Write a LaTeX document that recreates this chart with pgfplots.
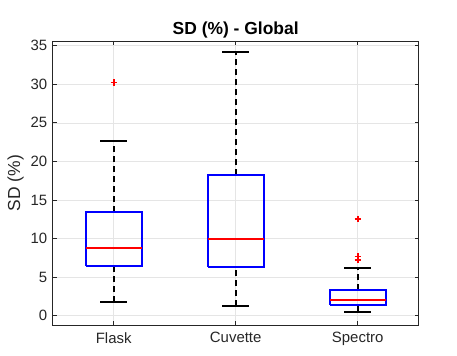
\documentclass[border=0pt]{standalone}
\usepackage{pgfplots}
\pgfplotsset{compat=1.18}
\usepackage{fontspec}
\setmainfont{Liberation Sans}
\definecolor{axgray}{gray}{0.15}
\definecolor{gridc}{gray}{0.9}
\begin{document}
\begin{tikzpicture}[x=1bp,y=1bp]
\path[use as bounding box] (-52.7bp,-31bp) rectangle (404.3bp,325bp);
\begin{axis}[
  scale only axis,
  width=366bp, height=284bp,
  xmin=0.5, xmax=3.5, ymin=-1.2, ymax=35.6,
  xtick={1,2,3}, xticklabels={Flask,Cuvette,Spectro},
  ytick={0,5,10,15,20,25,30,35},
  grid=major,
  major grid style={gridc, line width=0.5bp},
  axis line style={axgray, line width=0.8bp},
  tick style={axgray, line width=0.6bp},
  major tick length=4bp,
  tick align=inside,
  xtick pos=both, ytick pos=both,
  ticklabel style={font=\fontsize{15}{17}\selectfont, text=axgray},
  /pgf/number format/assume math mode=true,
  yticklabel style={xshift=-2bp},
  xticklabel style={yshift=-4bp},
  ylabel={SD (\%)},
  ylabel style={font=\fontsize{17.5}{19}\selectfont, text=axgray, yshift=0bp},
  title={\textbf{SD (\%) - Global}},
  title style={font=\fontsize{17.5}{19}\selectfont, yshift=-7bp},
  clip=false,
]
% Flask
\addplot[black, line width=1.6bp, dash pattern=on 6bp off 4bp] coordinates {(1,13.5)(1,22.7)};
\addplot[black, line width=1.6bp, dash pattern=on 6bp off 4bp] coordinates {(1,1.78)(1,6.4)};
\addplot[black, line width=2bp] coordinates {(0.89,22.7)(1.11,22.7)};
\addplot[black, line width=2bp] coordinates {(0.89,1.78)(1.11,1.78)};
\addplot[blue, line width=2bp, line join=miter] coordinates {(0.77,6.4)(1.23,6.4)(1.23,13.5)(0.77,13.5)(0.77,6.4)};
\addplot[red, line width=2bp] coordinates {(0.77,8.75)(1.23,8.75)};
\addplot[only marks, mark=+, red, mark size=3.2bp, mark options={line width=1.6bp}] coordinates {(1,30.2)};
% Cuvette
\addplot[black, line width=1.6bp, dash pattern=on 6bp off 4bp] coordinates {(2,18.2)(2,34.15)};
\addplot[black, line width=1.6bp, dash pattern=on 6bp off 4bp] coordinates {(2,1.26)(2,6.3)};
\addplot[black, line width=2bp] coordinates {(1.89,34.15)(2.11,34.15)};
\addplot[black, line width=2bp] coordinates {(1.89,1.26)(2.11,1.26)};
\addplot[blue, line width=2bp, line join=miter] coordinates {(1.77,6.3)(2.23,6.3)(2.23,18.2)(1.77,18.2)(1.77,6.3)};
\addplot[red, line width=2bp] coordinates {(1.77,10.0)(2.23,10.0)};
% Spectro
\addplot[black, line width=1.6bp, dash pattern=on 6bp off 4bp] coordinates {(3,3.3)(3,6.15)};
\addplot[black, line width=1.6bp, dash pattern=on 6bp off 4bp] coordinates {(3,0.48)(3,1.43)};
\addplot[black, line width=2bp] coordinates {(2.89,6.15)(3.11,6.15)};
\addplot[black, line width=2bp] coordinates {(2.89,0.48)(3.11,0.48)};
\addplot[blue, line width=2bp, line join=miter] coordinates {(2.77,1.43)(3.23,1.43)(3.23,3.3)(2.77,3.3)(2.77,1.43)};
\addplot[red, line width=2bp] coordinates {(2.77,2.04)(3.23,2.04)};
\addplot[only marks, mark=+, red, mark size=3.2bp, mark options={line width=1.6bp}] coordinates {(3,12.56)(3,7.66)(3,7.23)};
\end{axis}
\end{tikzpicture}
\end{document}
